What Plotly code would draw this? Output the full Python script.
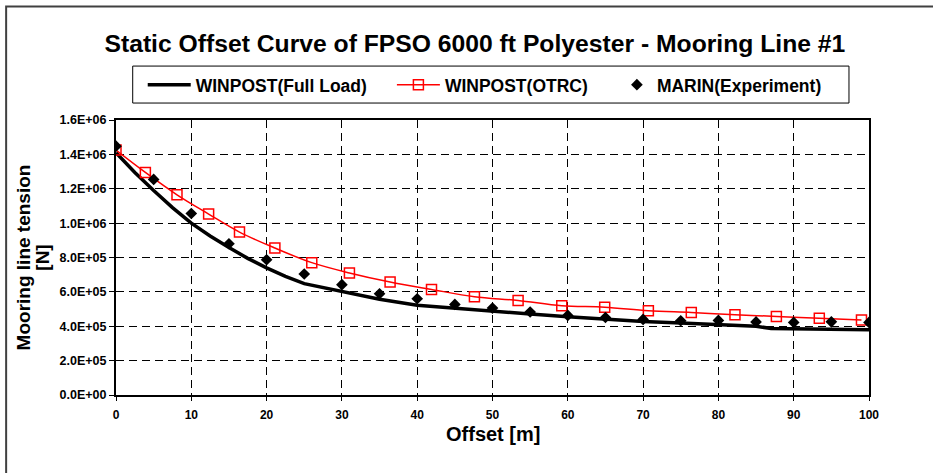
import plotly.graph_objects as go

# ---------------- data ----------------
full_load_x = [0, 2.5, 5, 7.5, 10, 12.5, 15, 17.5, 20, 22.5, 25, 30, 35, 40, 45, 50,
               55, 60, 65, 70, 75, 80, 85, 87, 90, 95, 100]
full_load_y = [1.41e6, 1.295e6, 1.19e6, 1.09e6, 1.00e6, 0.925e6, 0.858e6, 0.795e6, 0.740e6,
               0.690e6, 0.648e6, 0.600e6, 0.557e6, 0.522e6, 0.504e6, 0.488e6, 0.471e6,
               0.455e6, 0.440e6, 0.428e6, 0.419e6, 0.410e6, 0.400e6, 0.387e6, 0.385e6,
               0.382e6, 0.380e6]

otrc_x = [0, 3.9, 8.1, 12.3, 16.4, 21.1, 26.0, 31.0, 36.4, 41.9, 47.6, 53.4, 59.2,
          64.9, 70.7, 76.4, 82.2, 87.7, 93.4, 99.0]
otrc_y = [1.425e6, 1.295e6, 1.165e6, 1.053e6, 0.948e6, 0.855e6, 0.770e6, 0.710e6,
          0.657e6, 0.614e6, 0.572e6, 0.550e6, 0.519e6, 0.511e6, 0.490e6, 0.480e6,
          0.467e6, 0.457e6, 0.446e6, 0.436e6]

marin_x = [0, 5, 10, 15, 20, 25, 30, 35, 40, 45, 50, 55, 60, 65, 70, 75, 80, 85, 90, 95, 100]
marin_y = [1.448e6, 1.254e6, 1.056e6, 0.880e6, 0.787e6, 0.704e6, 0.642e6, 0.589e6,
           0.560e6, 0.527e6, 0.506e6, 0.483e6, 0.463e6, 0.451e6, 0.440e6, 0.432e6,
           0.434e6, 0.425e6, 0.422e6, 0.426e6, 0.422e6]

series_names = ["WINPOST(Full Load)", "WINPOST(OTRC)", "MARIN(Experiment)"]

x_tickvals = [0, 10, 20, 30, 40, 50, 60, 70, 80, 90, 100]
y_tickvals = [0, 2e5, 4e5, 6e5, 8e5, 1.0e6, 1.2e6, 1.4e6, 1.6e6]
y_ticktext = ["0.0E+00", "2.0E+05", "4.0E+05", "6.0E+05", "8.0E+05",
              "1.0E+06", "1.2E+06", "1.4E+06", "1.6E+06"]

title_text = "Static Offset Curve of FPSO 6000 ft Polyester - Mooring Line #1"
x_title = "Offset [m]"
y_title_lines = ["Mooring line tension", "[N]"]

# ---------------- figure ----------------
FONT = "Liberation Sans, Arial, sans-serif"

fig = go.Figure()
fig.add_trace(go.Scatter(
    x=full_load_x, y=full_load_y, mode="lines", name=series_names[0],
    line=dict(color="black", width=3.5), legend="legend", showlegend=True))
fig.add_trace(go.Scatter(
    x=otrc_x, y=otrc_y, mode="lines+markers", name=series_names[1],
    line=dict(color="#ff0000", width=1.5, shape="spline"),
    marker=dict(symbol="square-open", size=10, color="#ff0000", line=dict(width=1.5)),
    legend="legend2", showlegend=True))
fig.add_trace(go.Scatter(
    x=marin_x, y=marin_y, mode="markers", name=series_names[2],
    marker=dict(symbol="diamond", size=9, color="black"),
    legend="legend3", showlegend=True))

leg_common = dict(orientation="h", xanchor="left", yanchor="middle", y=1.128,
                  bgcolor="rgba(0,0,0,0)", borderwidth=0,
                  font=dict(family=FONT, size=17.5, color="black", weight="bold"))

y_title = "<br>".join(f"<span style='font-size:19px'>{t}</span>" for t in y_title_lines)

fig.update_layout(
    width=933, height=473,
    showlegend=True,
    margin=dict(l=116, r=64, t=120, b=78),
    paper_bgcolor="white", plot_bgcolor="white",
    title=dict(text=title_text, x=0.509, xanchor="center", y=0.909, yanchor="middle",
               font=dict(family=FONT, size=24.7, color="black", weight="bold")),
    legend=dict(x=0.0355, itemwidth=43, **leg_common),
    legend2=dict(x=0.3664, itemwidth=43, **leg_common),
    legend3=dict(x=0.6652, **leg_common),
    xaxis=dict(range=[0, 100], tickvals=x_tickvals, showgrid=True,
               gridcolor="black", gridwidth=1, griddash="8px,5px",
               showline=True, linecolor="black", linewidth=2, mirror=True,
               ticks="outside", ticklen=4, tickcolor="black", zeroline=False,
               ticklabelstandoff=4,
               tickfont=dict(family=FONT, size=12, color="black", weight="bold")),
    yaxis=dict(range=[0, 1.6e6], tickvals=y_tickvals, ticktext=y_ticktext, showgrid=True,
               gridcolor="black", gridwidth=1, griddash="8px,5px",
               showline=True, linecolor="black", linewidth=2, mirror=True,
               ticks="outside", ticklen=5, tickcolor="black", zeroline=False,
               tickfont=dict(family=FONT, size=12.5, color="black", weight="bold"),
               title=dict(text=y_title, standoff=7,
                          font=dict(family=FONT, size=14, color="black", weight="bold"))),
    annotations=[
        # x-axis title
        dict(text=x_title, xref="paper", yref="paper", x=0.5, y=-0.1406,
             xanchor="center", yanchor="middle", showarrow=False, borderpad=0,
             font=dict(family=FONT, size=20, color="black", weight="bold")),
    ],
    shapes=[
        # legend box
        dict(type="rect", xref="paper", yref="paper", x0=0.0222, x1=0.9734,
             y0=1.0617, y1=1.1961, line=dict(color="black", width=1),
             fillcolor="rgba(0,0,0,0)"),
        # outer chart border
        dict(type="rect", xref="paper", yref="paper", x0=-0.1459, x1=1.2,
             y0=-0.4, y1=1.4123, line=dict(color="#404040", width=2),
             fillcolor="rgba(0,0,0,0)"),
    ],
)

fig.write_html("out.html")
